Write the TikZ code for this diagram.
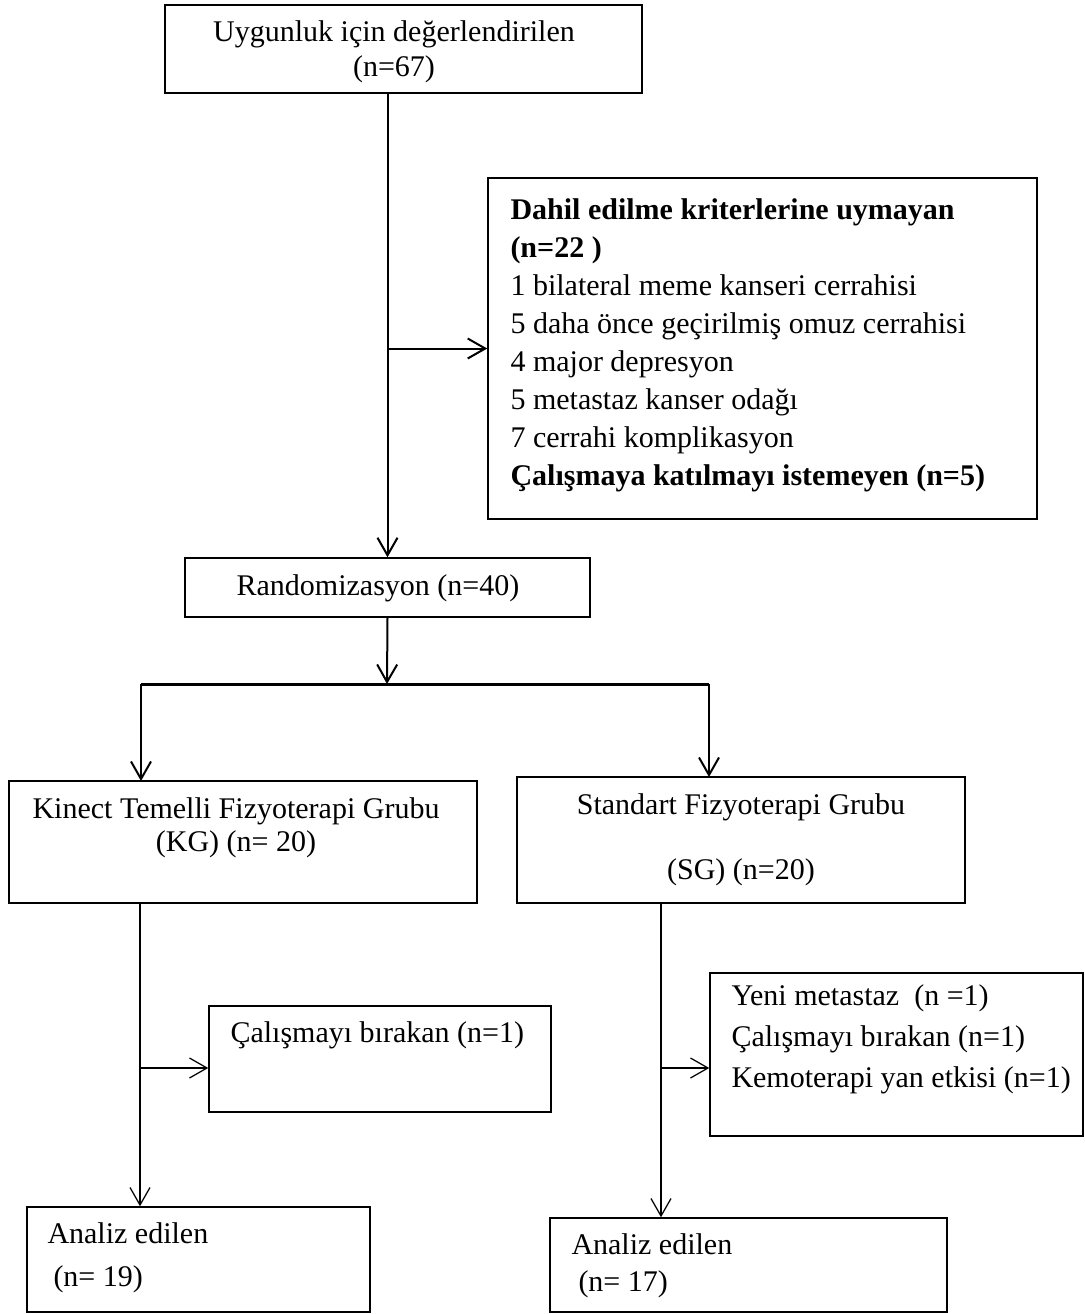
\documentclass[tikz,border=0pt]{standalone}
\usepackage{fontspec}
\setmainfont{Liberation Serif}
\usetikzlibrary{arrows.meta,fit}

\begin{document}
\begin{tikzpicture}[x=0.4pt,y=-0.4pt,
  box/.style={draw,line width=0.6pt,inner sep=0pt},
  txt/.style={inner sep=0pt,font=\fontsize{12}{#1}\selectfont},
  txt/.default=14pt,
  conn/.style={line width=0.8pt,-{Straight Barb[length=7pt,width=8pt]}},
  thinconn/.style={conn,line width=0.5pt}]
  \useasboundingbox (0,0) rectangle (1085,1314);
  % boxes
  \node[box,fit={(165,5) (642,93)}] (elig) {};
  \node[box,fit={(488,178) (1037,519)}] (excl) {};
  \node[box,fit={(185,558) (590,617)}] (rand) {};
  \node[box,fit={(9,781) (477,903)}] (kg) {};
  \node[box,fit={(517,777) (965,903)}] (sg) {};
  \node[box,fit={(209,1006) (551,1112)}] (dropkg) {};
  \node[box,fit={(710,973) (1083,1136)}] (dropsg) {};
  \node[box,fit={(27,1207) (370,1312)}] (ankg) {};
  \node[box,fit={(550,1218) (947,1312)}] (ansg) {};
  % texts
  \node[txt,align=center] (elig-t) at (394,52) {Uygunluk için değerlendirilen\\(n=67)};
  \node[txt=15.2pt,align=left,anchor=west] (excl-t) at (510,345)
    {\textbf{Dahil edilme kriterlerine uymayan}\\\textbf{(n=22 )}\\
     1 bilateral meme kanseri cerrahisi\\5 daha önce geçirilmiş omuz cerrahisi\\
     4 major depresyon\\5 metastaz kanser odağı\\7 cerrahi komplikasyon\\
     \textbf{Çalışmaya katılmayı istemeyen (n=5)}};
  \node[txt] (rand-t) at (378,588) {Randomizasyon (n=40)};
  \node[txt=13.2pt,align=center] (kg-t) at (236,828) {Kinect Temelli Fizyoterapi Grubu\\(KG) (n= 20)};
  \node[txt=26pt,align=center] (sg-t) at (741,840) {Standart Fizyoterapi Grubu\\(SG) (n=20)};
  \node[txt,anchor=west] (dropkg-t) at (230,1035) {Çalışmayı bırakan (n=1)};
  \node[txt=16.4pt,align=left,anchor=west] (dropsg-t) at (731,1039)
    {Yeni metastaz \ (n =1)\\Çalışmayı bırakan (n=1)\\Kemoterapi yan etkisi (n=1)};
  \node[txt=17.2pt,align=left,anchor=west] (ankg-t) at (47,1258) {Analiz edilen\\\hspace*{2.4pt}(n= 19)};
  \node[txt=14.8pt,align=left,anchor=west] (ansg-t) at (571,1266) {Analiz edilen\\\hspace*{2.8pt}(n= 17)};
  % connectors
  \draw[conn] (elig.south -| rand.north) -- (rand.north);
  \draw[conn] (rand.north |- excl.west) -- (excl.west);
  \coordinate (split) at (387,684);
  \coordinate (kgin) at (141,781);
  \coordinate (sgin) at (709,777);
  \draw[conn] (rand.south) -- (split);
  \draw[line width=1.2pt] (kgin |- split) -- (sgin |- split);
  \draw[conn] (kgin |- split) -- (kgin);
  \draw[conn] (sgin |- split) -- (sgin);
  \coordinate (kgout) at (140,1068);
  \coordinate (sgout) at (661,1068);
  \draw[thinconn] (kgout |- kg.south) -- (kgout |- ankg.north);
  \draw[thinconn] (kgout) -- (kgout -| dropkg.west);
  \draw[thinconn] (sgout |- sg.south) -- (sgout |- ansg.north);
  \draw[thinconn] (sgout) -- (sgout -| dropsg.west);
\end{tikzpicture}
\end{document}
